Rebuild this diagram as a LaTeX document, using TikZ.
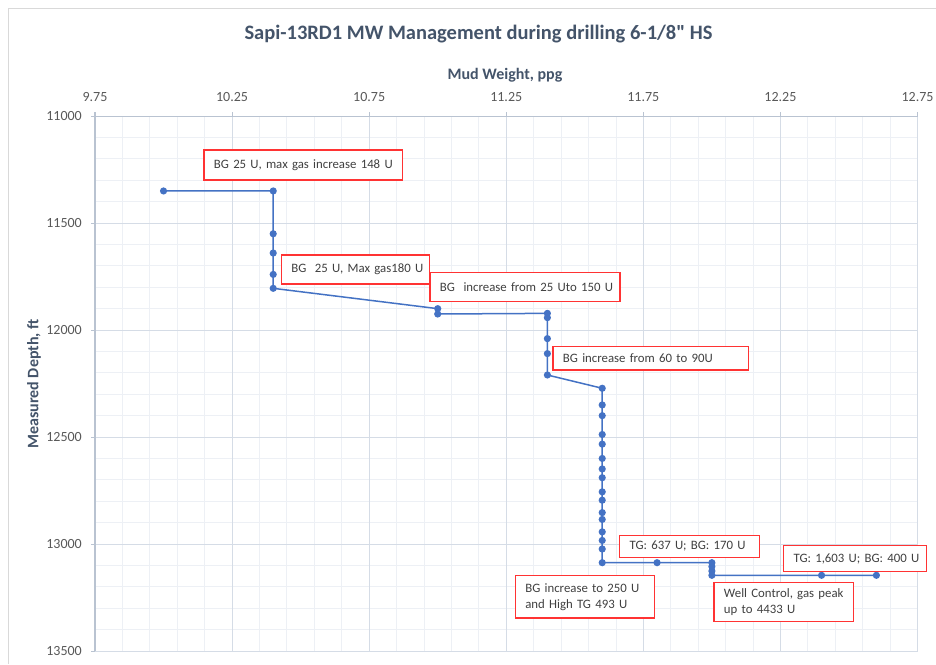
\documentclass[tikz,border=0pt]{standalone}
\usepackage{fontspec}
\setmainfont{Carlito}[Ligatures=TeXOff]
\definecolor{gridmaj}{HTML}{D5DCE6}
\definecolor{gridmin}{HTML}{EDF0F5}
\definecolor{axcol}{HTML}{B9C3D1}
\definecolor{ticktxt}{HTML}{595959}
\definecolor{titletxt}{HTML}{44546A}
\definecolor{seriescol}{HTML}{4472C4}
\definecolor{boxred}{HTML}{FF3333}
\definecolor{boxtxt}{HTML}{404040}
\definecolor{frame}{HTML}{D9D9D9}
\begin{document}
\begin{tikzpicture}[x=1pt,y=1pt,
  charttitle/.style={font=\fontsize{20.5}{24}\selectfont\bfseries, text=titletxt, inner sep=0pt},
  axtitle/.style={font=\fontsize{16}{19}\selectfont\bfseries, text=titletxt, inner sep=0pt},
  ticklab/.style={font=\fontsize{14}{16}\selectfont, text=ticktxt, inner sep=0pt},
  minorgrid/.style={draw=gridmin, line width=0.9pt},
  majorgrid/.style={draw=gridmaj, line width=1pt},
  axisline/.style={draw=axcol, line width=1.1pt},
  series/.style={draw=seriescol, line width=1.5pt, line join=round},
  marker/.style={circle, fill=seriescol, inner sep=0pt, minimum size=7.2pt},
  annot/.style={draw=boxred, line width=1.3pt, fill=white, text=boxtxt,
    font=\fontsize{12.8}{16}\selectfont, inner xsep=10pt, inner ysep=0pt,
    align=left, anchor=north west}
]
\useasboundingbox (0,0) rectangle (936,-664);
\fill[white] (0,0) rectangle (936,-664);
\draw[draw=frame, line width=1pt] (8.5,-664) -- (8.5,-8.5) -- (936,-8.5);

\node[charttitle] (title) at (478.5,-34) {Sapi-13RD1 MW Management during drilling 6-1/8" HS};
\node[axtitle] (xtitle) at (505,-75) {Mud Weight, ppg};
\node[axtitle, rotate=90] (ytitle) at (34,-384) {Measured Depth, ft};

\begin{scope}[x=274.17pt, y=-0.214pt, shift={(-2578.16pt,2238pt)}]
  % minor grid
  \foreach \k in {1,...,29} {
    \pgfmathsetmacro{\xv}{9.75+0.1*\k}
    \draw[minorgrid] (\xv,11000) -- (\xv,13500);
  }
  \foreach \k in {1,...,24} {
    \pgfmathsetmacro{\yv}{11000+100*\k}
    \draw[minorgrid] (9.75,\yv) -- (12.75,\yv);
  }
  % major grid
  \foreach \v in {10.25,10.75,11.25,11.75,12.25,12.75}
    \draw[majorgrid] (\v,11000) -- (\v,13500);
  \foreach \d in {11500,12000,12500,13000,13500}
    \draw[majorgrid] (9.75,\d) -- (12.75,\d);
  % axes
  \draw[axisline] (9.75,13500) -- (9.75,11000) -- (12.75,11000);
  \foreach \v [count=\i] in {9.75,10.25,10.75,11.25,11.75,12.25,12.75} {
    \draw[axisline] (\v,11000) -- ++(0pt,4pt);
    \node[ticklab, yshift=19pt] (xt\i) at (\v,11000) {\v};
  }
  \foreach \d [count=\i] in {11000,11500,12000,12500,13000,13500} {
    \draw[axisline] (9.75,\d) -- ++(-4pt,0pt);
    \node[ticklab, anchor=east, xshift=-13pt] (yt\i) at (9.75,\d) {\d};
  }
  % data
  \foreach \mx/\dy [count=\i] in {10.0/11350,10.4/11350,10.4/11550,10.4/11640,10.4/11740,10.4/11805,
      11.0/11900,11.0/11925,11.4/11922,11.4/11942,11.4/12040,11.4/12110,11.4/12210,
      11.6/12272,11.6/12350,11.6/12400,11.6/12488,11.6/12533,11.6/12600,11.6/12649,
      11.6/12690,11.6/12756,11.6/12795,11.6/12853,11.6/12885,11.6/12943,11.6/12983,
      11.6/13023,11.6/13087,11.8/13087,12.0/13087,12.0/13105,12.0/13126,12.0/13146,
      12.4/13146,12.6/13146}
    \coordinate (p\i) at (\mx,\dy);
  \draw[series] (p1) \foreach \i in {2,...,36} { -- (p\i) };
  \foreach \i in {1,...,36}
    \node[marker] (m\i) at (p\i) {};
\end{scope}

% annotations
\node[annot, minimum height=30pt, text width=178.4pt] (b1) at (203.3,-149.3)
  {\mbox{BG 25 U, max gas increase 148 U}};
\node[annot, minimum height=29pt, text width=128pt] (b2) at (280.7,-254.3)
  {\mbox{BG\ \ 25 U, Max gas180 U}};
\node[annot, minimum height=29pt, text width=170pt] (b3) at (429.3,-271.7)
  {\mbox{BG\ \ increase from 25 Uto 150 U}};
\node[annot, minimum height=23.3pt, text width=175.7pt] (b4) at (552.3,-346)
  {\mbox{BG increase from 60 to 90U}};
\node[annot, minimum height=22pt, text width=119.7pt] (b5) at (619,-534.7)
  {\mbox{TG: 637 U; BG: 170 U}};
\node[annot, minimum height=26pt, text width=122.7pt] (b6) at (783,-545)
  {\mbox{TG: 1,603 U; BG: 400 U}};
\node[annot, minimum height=42.3pt, text width=119pt] (b7) at (514.7,-575)
  {\mbox{BG increase to 250 U}\\\mbox{and High TG 493 U}};
\node[annot, minimum height=38.7pt, text width=119.4pt] (b8) at (713.3,-582)
  {\mbox{Well Control, gas peak}\\\mbox{up to 4433 U}};
\end{tikzpicture}
\end{document}
